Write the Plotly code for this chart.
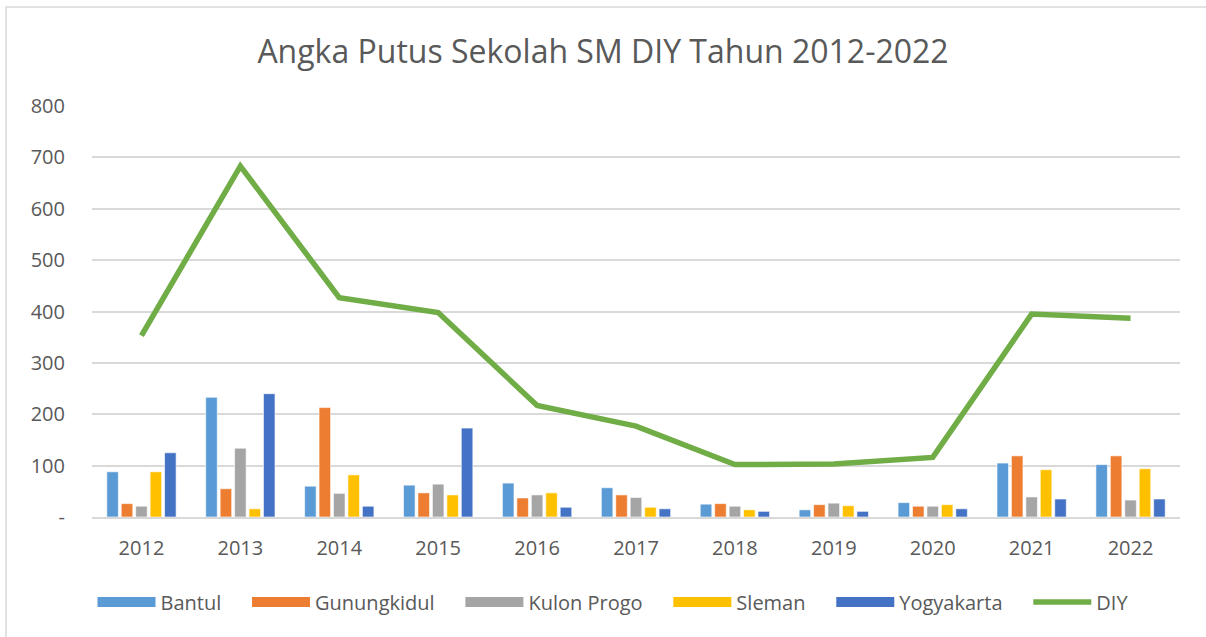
import plotly.graph_objects as go

years = ["2012","2013","2014","2015","2016","2017","2018","2019","2020","2021","2022"]
bantul      = [88, 233, 60, 62, 66, 57, 25, 14, 28, 105, 102]
gunungkidul = [26, 55, 213, 47, 37, 43, 26, 24, 21, 119, 119]
kulon_progo = [21, 134, 46, 64, 43, 38, 21, 27, 21, 39, 33]
sleman      = [88, 16, 82, 43, 47, 19, 14, 22, 24, 92, 94]
yogyakarta  = [125, 240, 21, 173, 19, 16, 11, 11, 16, 35, 35]
diy         = [353, 683, 427, 398, 217, 177, 102, 103, 116, 395, 387]

y_ticks = [0, 100, 200, 300, 400, 500, 600, 700, 800]
y_labels = ["-", "100", "200", "300", "400", "500", "600", "700", "800"]

font_family = "Open Sans"
txt = "#595959"
pad = "\u00a0" * 4

fig = go.Figure()
series = [("Bantul", bantul, "#5B9BD5"), ("Gunungkidul", gunungkidul, "#ED7D31"),
          ("Kulon Progo", kulon_progo, "#A5A5A5"), ("Sleman", sleman, "#FFC000"),
          ("Yogyakarta", yogyakarta, "#4472C4")]
for name, vals, col in series:
    fig.add_trace(go.Bar(x=years, y=vals, name=name, marker_color=col, showlegend=False,
                         legendgroup=name,
                         marker_line=dict(color="rgba(255,255,255,0.6)", width=1)))
fig.add_trace(go.Scatter(x=years, y=diy, name="DIY", mode="lines", showlegend=False,
                         legendgroup="DIY", line=dict(color="#70AD47", width=5.5)))
# legend entries (wide swatches like the original)
for name, vals, col in series:
    fig.add_trace(go.Scatter(x=[None], y=[None], name=name + pad, mode="lines", legendgroup=name,
                             line=dict(color=col, width=14)))
fig.add_trace(go.Scatter(x=[None], y=[None], name="DIY", mode="lines", legendgroup="DIY",
                         line=dict(color="#70AD47", width=5.5)))

fig.update_layout(
    width=1206, height=637,
    margin=dict(l=92, r=26, t=106, b=120),
    paper_bgcolor="white", plot_bgcolor="white",
    barmode="group", bargap=0.27, bargroupgap=0.2,
    title=dict(text="Angka Putus Sekolah SM DIY Tahun 2012-2022", x=0.5, xanchor="center",
               y=1 - 52/637, yanchor="middle", font=dict(family=font_family, size=32, color=txt)),
    font=dict(family=font_family, size=20, color=txt),
    legend=dict(orientation="h", x=(613-92)/1088, xanchor="center", y=(517-602)/411, yanchor="middle",
                font=dict(family=font_family, size=20, color=txt), traceorder="normal",
                itemwidth=58),
    showlegend=True,
)
fig.update_xaxes(showgrid=False, showline=True, linecolor="#D9D9D9", linewidth=1.5,
                 ticks="", ticklabelstandoff=12, tickfont=dict(size=20, color=txt))
fig.update_yaxes(range=[0, 800], tickvals=y_ticks, ticktext=y_labels, showgrid=True,
                 gridcolor="#D9D9D9", gridwidth=1.5, zeroline=False, showline=False,
                 ticks="", ticklabelstandoff=26, tickfont=dict(size=20, color=txt))

fig.add_shape(type="rect", xref="paper", yref="paper",
              x0=(6-92)/1088, x1=(1215-92)/1088, y0=(517-645)/411, y1=(517-7)/411,
              line=dict(color="#D9D9D9", width=1.5), layer="below")

fig.write_html("out.html", config={"displayModeBar": False},
               post_script="document.body.style.margin='0';")
